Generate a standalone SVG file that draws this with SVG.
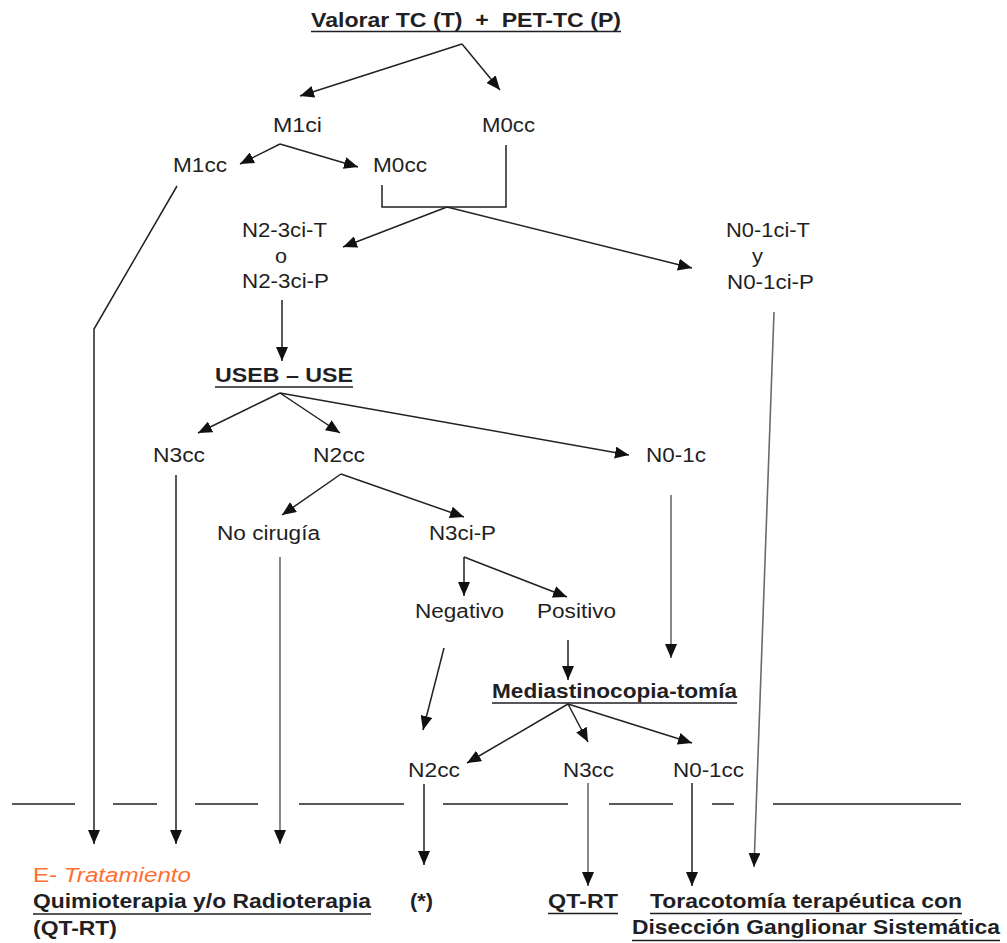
<svg xmlns="http://www.w3.org/2000/svg" width="1007" height="943" viewBox="0 0 1007 943">
<style>
text{font-family:"Liberation Sans",Arial,sans-serif;font-size:19.5px;fill:#1f1f24}
.b{font-weight:bold}
.or{fill:#ff6e30}
.ul{stroke:#1f1f24;stroke-width:1.6}
.c{fill:none;stroke:#222;stroke-width:1.5}
.g{fill:none;stroke:#6a6a6a;stroke-width:1.6}
</style>
<defs>
<marker id="ah" markerUnits="userSpaceOnUse" markerWidth="14" markerHeight="12" refX="14" refY="6" orient="auto">
<path d="M0,0 L14,6 L0,12 z" fill="#111"/>
</marker>
</defs>
<rect width="1007" height="943" fill="#fff"/>

<g id="connectors">
<line class="c" x1="462" y1="44" x2="300" y2="96" marker-end="url(#ah)"/>
<line class="c" x1="462" y1="44" x2="500" y2="90" marker-end="url(#ah)"/>
<line class="c" x1="280" y1="144" x2="240" y2="164" marker-end="url(#ah)"/>
<line class="c" x1="280" y1="144" x2="358" y2="167" marker-end="url(#ah)"/>
<polyline class="c" points="382,185 382,207 506,207 506,145"/>
<line class="c" x1="447" y1="207" x2="343" y2="247" marker-end="url(#ah)"/>
<line class="c" x1="447" y1="207" x2="692" y2="268" marker-end="url(#ah)"/>
<polyline class="c" points="177,186 94,329 94,844" marker-end="url(#ah)"/>
<line class="c" x1="282" y1="300" x2="282" y2="361" marker-end="url(#ah)"/>
<line class="c" x1="280" y1="393" x2="198" y2="433" marker-end="url(#ah)"/>
<line class="c" x1="280" y1="393" x2="340" y2="433" marker-end="url(#ah)"/>
<line class="c" x1="280" y1="393" x2="629" y2="455" marker-end="url(#ah)"/>
<line class="c" x1="176" y1="475" x2="176" y2="844" marker-end="url(#ah)"/>
<line class="c" x1="341" y1="474" x2="282" y2="515" marker-end="url(#ah)"/>
<line class="c" x1="341" y1="474" x2="464" y2="517" marker-end="url(#ah)"/>
<line class="g" x1="280" y1="557" x2="280" y2="844" marker-end="url(#ah)"/>
<line class="g" x1="774" y1="312" x2="754" y2="867" marker-end="url(#ah)"/>
<line class="g" x1="671" y1="495" x2="671" y2="658" marker-end="url(#ah)"/>
<line class="c" x1="464" y1="557" x2="464" y2="596" marker-end="url(#ah)"/>
<line class="c" x1="464" y1="557" x2="567" y2="597" marker-end="url(#ah)"/>
<line class="c" x1="444" y1="648" x2="423" y2="730" marker-end="url(#ah)"/>
<line class="c" x1="568" y1="640" x2="568" y2="680" marker-end="url(#ah)"/>
<line class="c" x1="568" y1="704" x2="467" y2="763" marker-end="url(#ah)"/>
<line class="c" x1="568" y1="704" x2="588" y2="742" marker-end="url(#ah)"/>
<line class="c" x1="568" y1="704" x2="692" y2="743" marker-end="url(#ah)"/>
<line class="c" x1="424" y1="784" x2="424" y2="865" marker-end="url(#ah)"/>
<line class="g" x1="588" y1="783" x2="588" y2="886" marker-end="url(#ah)"/>
<line class="c" x1="692" y1="783" x2="692" y2="886" marker-end="url(#ah)"/>
<path class="c" d="M12,804 H75 M113,804 H157 M195,804 H258 M299,804 H404 M443,804 H568 M609,804 H673 M712,804 H734 M773,804 H961"/>
</g>

<g id="title">
<text class="b" x="311" y="27" textLength="310" lengthAdjust="spacingAndGlyphs" style="white-space:pre">Valorar TC (T)  +  PET-TC (P)</text>
<line class="ul" x1="311" y1="31.5" x2="621" y2="31.5"/>
</g>
<g id="m1ci"><text x="273" y="132" textLength="49" lengthAdjust="spacingAndGlyphs">M1ci</text></g>
<g id="m0cc-top"><text x="482" y="132" textLength="53" lengthAdjust="spacingAndGlyphs">M0cc</text></g>
<g id="m1cc"><text x="173" y="172" textLength="54" lengthAdjust="spacingAndGlyphs">M1cc</text></g>
<g id="m0cc"><text x="373" y="172" textLength="54" lengthAdjust="spacingAndGlyphs">M0cc</text></g>
<g id="n23ci">
<text x="242" y="237" textLength="85" lengthAdjust="spacingAndGlyphs">N2-3ci-T</text>
<text x="275" y="263" textLength="12" lengthAdjust="spacingAndGlyphs">o</text>
<text x="242" y="288" textLength="87" lengthAdjust="spacingAndGlyphs">N2-3ci-P</text>
</g>
<g id="n01ci">
<text x="726" y="237" textLength="84" lengthAdjust="spacingAndGlyphs">N0-1ci-T</text>
<text x="752" y="263" textLength="11" lengthAdjust="spacingAndGlyphs">y</text>
<text x="727" y="289" textLength="87" lengthAdjust="spacingAndGlyphs">N0-1ci-P</text>
</g>
<g id="useb">
<text class="b" x="215" y="382" textLength="138" lengthAdjust="spacingAndGlyphs">USEB – USE</text>
<line class="ul" x1="215" y1="387" x2="353" y2="387"/>
</g>
<g id="n3cc-a"><text x="153" y="462" textLength="52" lengthAdjust="spacingAndGlyphs">N3cc</text></g>
<g id="n2cc-a"><text x="313" y="462" textLength="52" lengthAdjust="spacingAndGlyphs">N2cc</text></g>
<g id="n01c"><text x="646" y="462" textLength="60" lengthAdjust="spacingAndGlyphs">N0-1c</text></g>
<g id="no-cirugia"><text x="217" y="540" textLength="103" lengthAdjust="spacingAndGlyphs">No cirugía</text></g>
<g id="n3cip"><text x="429" y="540" textLength="67" lengthAdjust="spacingAndGlyphs">N3ci-P</text></g>
<g id="negativo"><text x="415" y="618" textLength="89" lengthAdjust="spacingAndGlyphs">Negativo</text></g>
<g id="positivo"><text x="537" y="618" textLength="79" lengthAdjust="spacingAndGlyphs">Positivo</text></g>
<g id="mediastinocopia">
<text class="b" x="492" y="698" textLength="245" lengthAdjust="spacingAndGlyphs">Mediastinocopia-tomía</text>
<line class="ul" x1="492" y1="703" x2="737" y2="703"/>
</g>
<g id="n2cc-b"><text x="408" y="777" textLength="52" lengthAdjust="spacingAndGlyphs">N2cc</text></g>
<g id="n3cc-b"><text x="563" y="777" textLength="51" lengthAdjust="spacingAndGlyphs">N3cc</text></g>
<g id="n01cc"><text x="673" y="777" textLength="71" lengthAdjust="spacingAndGlyphs">N0-1cc</text></g>
<g id="tratamiento">
<text class="or" x="33" y="882" textLength="158" lengthAdjust="spacingAndGlyphs">E- <tspan font-style="italic">Tratamiento</tspan></text>
</g>
<g id="qt-rt-left">
<text class="b" x="33" y="908" textLength="338" lengthAdjust="spacingAndGlyphs">Quimioterapia y/o Radioterapia</text>
<line class="ul" x1="33" y1="914" x2="371" y2="914"/>
<text class="b" x="33" y="935" textLength="84" lengthAdjust="spacingAndGlyphs">(QT-RT)</text>
</g>
<g id="asterisk"><text class="b" x="410" y="908" textLength="23" lengthAdjust="spacingAndGlyphs">(*)</text></g>
<g id="qt-rt">
<text class="b" x="548" y="908" textLength="70" lengthAdjust="spacingAndGlyphs">QT-RT</text>
<line class="ul" x1="548" y1="913.5" x2="618" y2="913.5"/>
</g>
<g id="toracotomia">
<text class="b" x="650" y="908" textLength="312" lengthAdjust="spacingAndGlyphs">Toracotomía terapéutica con</text>
<line class="ul" x1="650" y1="913.5" x2="962" y2="913.5"/>
<text class="b" x="632" y="934" textLength="368" lengthAdjust="spacingAndGlyphs">Disección Ganglionar Sistemática</text>
<line class="ul" x1="632" y1="940.5" x2="1000" y2="940.5"/>
</g>
</svg>
